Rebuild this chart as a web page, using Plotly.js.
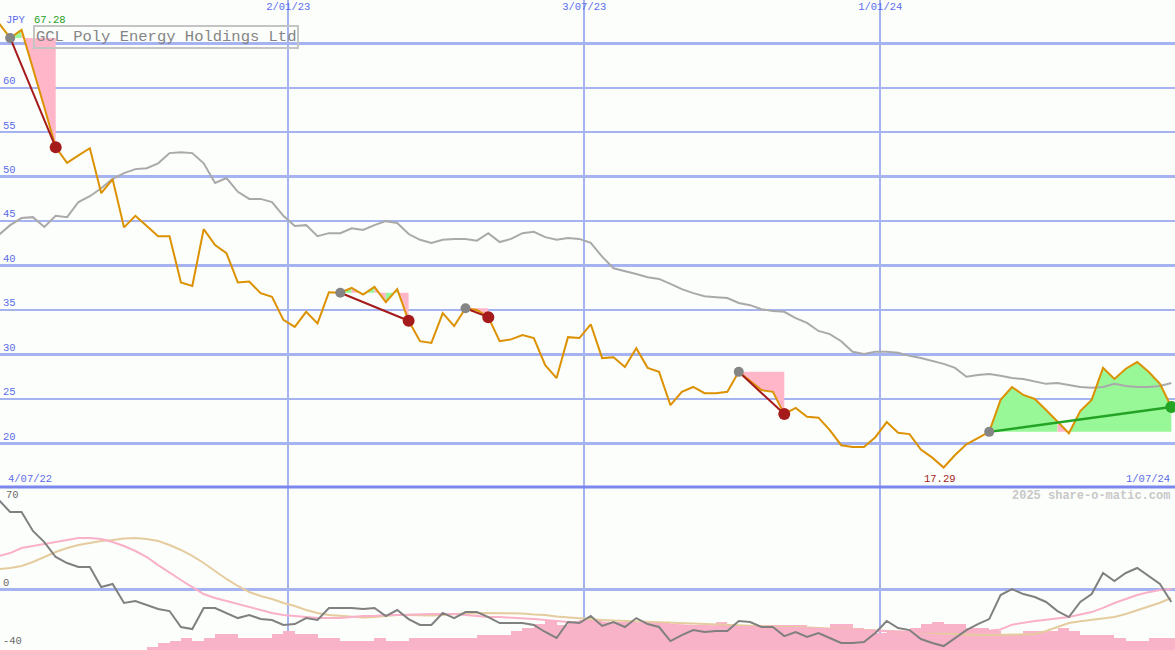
<!DOCTYPE html>
<html><head><meta charset="utf-8">
<script src="https://cdn.plot.ly/plotly-3.0.1.min.js"></script>
<style>html,body{margin:0;padding:0;background:#fcfefc;}#chart{width:1175px;height:650px;}</style>
</head><body><div id="chart"></div>
<script>
// ---------- data ----------
const dates = [
'2022-07-08','2022-07-15','2022-07-22','2022-07-29','2022-08-05','2022-08-12','2022-08-19','2022-08-26','2022-09-02','2022-09-09',
'2022-09-16','2022-09-23','2022-09-30','2022-10-07','2022-10-14','2022-10-21','2022-10-28','2022-11-04','2022-11-11','2022-11-18',
'2022-11-25','2022-12-02','2022-12-09','2022-12-16','2022-12-23','2022-12-30','2023-01-06','2023-01-13','2023-01-20','2023-01-27',
'2023-02-03','2023-02-10','2023-02-17','2023-02-24','2023-03-03','2023-03-10','2023-03-17','2023-03-24','2023-03-31','2023-04-07',
'2023-04-14','2023-04-21','2023-04-28','2023-05-05','2023-05-12','2023-05-19','2023-05-26','2023-06-02','2023-06-09','2023-06-16',
'2023-06-23','2023-06-30','2023-07-07','2023-07-14','2023-07-21','2023-07-28','2023-08-04','2023-08-11','2023-08-18','2023-08-25',
'2023-09-01','2023-09-08','2023-09-15','2023-09-22','2023-09-29','2023-10-06','2023-10-13','2023-10-20','2023-10-27','2023-11-03',
'2023-11-10','2023-11-17','2023-11-24','2023-12-01','2023-12-08','2023-12-15','2023-12-22','2023-12-29','2024-01-05','2024-01-12',
'2024-01-19','2024-01-26','2024-02-02','2024-02-09','2024-02-16','2024-02-23','2024-03-01','2024-03-08','2024-03-15','2024-03-22',
'2024-03-29','2024-04-05','2024-04-12','2024-04-19','2024-04-26','2024-05-03','2024-05-10','2024-05-17','2024-05-24','2024-05-31',
'2024-06-07','2024-06-14','2024-06-21','2024-06-28'];

const price = [
67.28,65.6,66.5,62.2,57.8,53.3,51.55,52.4,53.2,48.15,
49.7,44.3,45.6,44.45,43.3,43.3,38.1,37.7,44.1,42.3,
41.4,38.1,38.2,36.9,36.5,33.9,33.1,34.8,33.5,37.0,
36.95,37.5,36.75,37.6,35.9,37.35,33.8,31.5,31.3,34.65,
33.2,35.2,35.0,34.2,31.5,31.7,32.2,31.85,28.8,27.35,
31.95,31.85,33.4,29.6,29.7,28.6,30.7,28.5,28.05,24.3,
25.8,26.35,25.65,25.65,25.8,28.05,27.0,26.0,25.8,23.3,
24.0,23.0,22.9,21.5,19.8,19.6,19.6,20.7,22.4,21.2,
21.05,19.3,18.4,17.29,18.7,19.9,20.6,21.3,24.9,26.35,
25.45,25.0,23.75,22.4,21.15,23.65,24.9,28.5,27.25,28.4,
29.15,28.05,26.7,24.1];

const movingAvg = [
43.45,44.55,45.35,45.45,44.35,45.6,45.45,47.15,47.8,48.7,
49.75,50.4,50.85,50.95,51.5,52.65,52.75,52.65,51.5,49.3,
49.85,48.3,47.5,47.5,47.15,45.6,44.45,44.55,43.3,43.65,
43.65,44.2,44.0,44.55,45.0,44.8,43.55,42.9,42.55,42.9,
43.0,43.0,42.8,43.65,42.65,43.0,43.65,43.8,43.2,42.9,
43.1,43.0,42.55,41.0,39.7,39.4,39.05,38.7,38.5,37.95,
37.35,36.9,36.55,36.45,36.35,35.8,35.55,35.1,34.9,34.8,
34.1,33.55,32.65,32.3,31.5,30.3,30.05,30.3,30.3,30.2,
29.85,29.6,29.3,28.95,28.5,27.5,27.7,27.8,27.6,27.35,
27.25,27.0,26.7,26.8,26.55,26.35,26.25,26.35,26.7,26.45,
26.35,26.35,26.45,26.8];

const oscillator = [
61.1,52.9,52.9,40.0,32.4,22.2,18.1,15.4,15.4,1.7,
3.8,-9.2,-7.9,-10.6,-13.3,-14.7,-25.6,-27.0,-12.6,-12.6,
-16.0,-19.5,-17.4,-20.1,-20.8,-24.2,-23.6,-19.5,-20.8,-12.6,
-12.6,-12.6,-13.3,-12.6,-18.1,-14.0,-20.2,-24.2,-24.2,-16.0,
-19.5,-15.4,-15.4,-18.8,-22.9,-22.9,-22.9,-24.2,-29.0,-33.1,
-22.2,-22.9,-18.1,-24.9,-22.2,-25.6,-19.5,-23.6,-25.6,-35.2,
-31.1,-27.7,-29.0,-28.3,-28.3,-21.5,-22.2,-25.6,-25.6,-31.8,
-29.0,-32.4,-29.7,-33.1,-36.5,-36.5,-35.9,-29.7,-21.5,-26.3,
-27.7,-33.8,-36.5,-38.6,-33.1,-27.7,-23.6,-20.2,-3.8,0.3,
-3.1,-5.1,-8.5,-14.7,-18.8,-8.5,-3.1,11.3,5.8,11.3,
14.7,9.2,3.8,-8.5];

const oscFast = [
22.9,24.9,28.3,29.7,31.1,32.4,33.8,35.2,35.2,34.5,
32.4,29.7,26.3,22.2,16.7,11.3,6.5,1.7,-3.1,-5.8,
-7.9,-9.9,-12.0,-14.0,-16.0,-17.4,-18.1,-18.8,-19.5,-19.5,
-19.5,-18.8,-18.1,-18.1,-17.4,-17.4,-17.1,-16.7,-16.7,-16.7,
-16.7,-17.4,-18.1,-18.8,-18.8,-19.1,-19.5,-20.2,-20.8,-21.5,
-22.2,-22.2,-22.2,-22.5,-22.9,-22.9,-22.9,-23.2,-23.6,-24.2,
-24.6,-24.9,-24.9,-25.3,-25.6,-25.6,-25.6,-26.0,-26.3,-26.3,
-26.3,-26.6,-27.0,-27.0,-27.3,-27.7,-28.0,-28.3,-28.3,-28.7,
-29.0,-29.0,-29.0,-29.0,-29.0,-28.7,-28.5,-28.2,-27.3,-24.0,
-22.6,-21.5,-20.6,-19.7,-18.8,-17.0,-15.4,-12.5,-9.2,-6.5,
-3.8,-1.8,-0.3,0.3];

const oscSlow = [
14.0,14.7,16.1,18.8,22.2,25.6,28.3,30.4,31.8,33.1,
33.8,34.8,35.2,34.5,33.1,30.4,27.0,22.9,18.1,12.6,
7.2,2.4,-1.7,-4.4,-6.5,-9.2,-11.3,-14.0,-16.0,-17.4,
-18.1,-18.8,-19.1,-18.8,-18.1,-17.4,-17.4,-17.8,-17.8,-17.4,
-16.7,-16.4,-16.0,-16.0,-16.0,-16.0,-16.4,-17.1,-17.4,-18.4,
-19.1,-19.8,-20.5,-20.8,-21.2,-21.5,-21.5,-21.9,-22.2,-22.5,
-22.9,-23.2,-23.6,-23.9,-24.2,-24.6,-24.9,-25.3,-25.6,-25.6,
-25.6,-26.0,-26.3,-26.6,-27.0,-27.3,-27.7,-28.0,-28.3,-28.7,
-29.0,-29.4,-29.7,-30.1,-30.4,-30.7,-31.1,-31.1,-31.1,-30.9,
-30.7,-30.4,-28.3,-25.6,-22.9,-21.6,-20.6,-20.0,-18.8,-16.7,
-14.0,-11.8,-9.0,-5.8];

const volumeBars = [
0,0,0,0,0,0,0,0,0,0,
0,0,0,3.3,7,9,12.3,9,12.3,15.7,
15.7,12.3,12.3,12.3,15.7,19,15.7,15.7,12.3,12.3,
9,9,9,12.3,9,9,12.3,12.3,12.3,12.3,
12.3,12.3,15,15,15,19,22.3,25.7,30,25,
28.3,30,30,28.3,28.3,28.3,27,27,27,25,
25,23,23,28.3,25,25,25,25,25,25,
25,21.7,21.7,25.7,25.7,21.7,20.7,16.7,18.3,18.3,
22.3,25.7,28.3,25.7,25.7,22.3,22.3,19,15,15,
19,19,19,21.7,19,15,15,15,12.3,9,
9,12.3,12.3,12.3];

const tradeEntryDates = ['2022-07-15','2023-02-03','2023-04-21','2023-10-06','2024-03-08'];
const tradeExitDates  = ['2022-08-12','2023-03-17','2023-05-05','2023-11-03','2024-06-28'];
const tradeOpen       = [false,false,false,false,true];

const xTickVals = ['2023-01-02','2023-07-03','2024-01-01'];
const xTickText = ['2/01/23','3/07/23','1/01/24'];
const yTickVals = [20,25,30,35,40,45,50,55,60,65];
const yTickText = ['20','25','30','35','40','45','50','55','60',''];
const oscTickVals = [-40,0];
const oscTickText = ['-40','0'];
const chartTitle = 'GCL Poly Energy Holdings Ltd';
const currencyLabel = 'JPY';
const startLabel = '4/07/22';
const endLabel = '1/07/24';
const oscTopLabel = '70';
const watermark = '2025 share-o-matic.com';

// ---------- styling ----------
const W = 1175, H = 650;
const FONT = 'Liberation Mono, DejaVu Sans Mono, monospace';
const BG = '#fcfefc';
const GRID = '#a5b3f1';
const BLUE = '#5b6cea';
const ORANGE = '#dc9100';
const PINK = '#ffb6c9';
const GREEN = '#98f898';
const LOSS = '#a51b1b';
const WIN = '#24a424';
const lowerFrac = 163 / H;
const px = v => v / W;
const py = v => 1 - v / H;
const idxOf = d => dates.indexOf(d);

// Fill between price and entry level, each weekly segment coloured by
// whether the price at the segment end is above (green) or below (pink) entry.
function segmentFills(i0, i1) {
  const E = price[i0];
  const runs = [];
  let cur = null;
  for (let k = i0 + 1; k <= i1; k++) {
    const col = price[k] < E ? PINK : GREEN;
    if (!cur || cur.col !== col) { cur = { col, from: k - 1, to: k }; runs.push(cur); }
    else cur.to = k;
  }
  return runs.map(r => {
    const xs = [dates[r.from]], ys = [E];
    for (let k = r.from; k <= r.to; k++) { xs.push(dates[k]); ys.push(price[k]); }
    xs.push(dates[r.to]); ys.push(E);
    return { col: r.col, xs, ys };
  });
}

const traces = [];
tradeEntryDates.forEach((d, n) => {
  segmentFills(idxOf(d), idxOf(tradeExitDates[n])).forEach(p => {
    traces.push({ type: 'scatter', mode: 'lines', x: p.xs, y: p.ys, fill: 'toself',
      fillcolor: p.col, line: { width: 0, color: p.col }, xaxis: 'x', yaxis: 'y', hoverinfo: 'skip' });
  });
});
traces.push({ type: 'scatter', mode: 'lines', x: dates, y: movingAvg, line: { color: '#a9a9a9', width: 2 }, xaxis: 'x', yaxis: 'y' });
traces.push({ type: 'scatter', mode: 'lines', x: dates, y: price, line: { color: ORANGE, width: 2 }, xaxis: 'x', yaxis: 'y' });
tradeEntryDates.forEach((d, n) => {
  const i0 = idxOf(d), i1 = idxOf(tradeExitDates[n]);
  const col = tradeOpen[n] ? WIN : LOSS;
  traces.push({ type: 'scatter', mode: 'lines', x: [dates[i0], dates[i1]], y: [price[i0], price[i1]],
    line: { color: col, width: tradeOpen[n] ? 2.5 : 2 }, xaxis: 'x', yaxis: 'y' });
  traces.push({ type: 'scatter', mode: 'markers', x: [dates[i0]], y: [price[i0]],
    marker: { color: '#858585', size: 10 }, xaxis: 'x', yaxis: 'y', cliponaxis: false });
  traces.push({ type: 'scatter', mode: 'markers', x: [dates[i1]], y: [price[i1]],
    marker: { color: col, size: 12 }, xaxis: 'x', yaxis: 'y' });
});
traces.push({ type: 'bar', x: dates, y: volumeBars, offset: 0, width: 7 * 86400000,
  marker: { color: '#f9b3c8', line: { width: 0 } }, xaxis: 'x2', yaxis: 'y2' });
traces.push({ type: 'scatter', mode: 'lines', x: dates, y: oscSlow, line: { color: '#e5cc9e', width: 2 }, xaxis: 'x2', yaxis: 'y3' });
traces.push({ type: 'scatter', mode: 'lines', x: dates, y: oscFast, line: { color: '#f9b0c8', width: 2 }, xaxis: 'x2', yaxis: 'y3' });
traces.push({ type: 'scatter', mode: 'lines', x: dates, y: oscillator, line: { color: '#808080', width: 2 }, xaxis: 'x2', yaxis: 'y3' });

const maxVal = Math.max(...price), minVal = Math.min(...price);
const minIdx = price.indexOf(minVal);
const xRange = ['2022-07-08 18:00', '2024-06-30 06:00'];

const layout = {
  width: W, height: H,
  margin: { l: 0, r: 0, t: 0, b: 0, pad: 0 },
  paper_bgcolor: BG, plot_bgcolor: BG,
  showlegend: false, hovermode: false, bargap: 0,
  font: { family: FONT, size: 10, color: BLUE },
  xaxis: {
    type: 'date', range: xRange, domain: [0, 1], anchor: 'y', side: 'top',
    tickvals: xTickVals, ticktext: xTickText, ticks: '', ticklabelposition: 'inside',
    tickfont: { family: FONT, size: 10.5, color: BLUE },
    showgrid: true, gridcolor: GRID, gridwidth: 2, zeroline: false, showline: false
  },
  yaxis: {
    domain: [lowerFrac, 1], range: [15.1, 69.87], anchor: 'x',
    tickvals: yTickVals, ticktext: yTickText, ticks: '', ticklabelposition: 'inside top',
    tickfont: { family: FONT, size: 10.5, color: BLUE },
    showgrid: true, gridcolor: GRID, gridwidth: 2.5, zeroline: false, showline: false
  },
  xaxis2: {
    type: 'date', range: xRange, matches: 'x', anchor: 'y2',
    tickvals: xTickVals, showticklabels: false, ticks: '',
    showgrid: true, gridcolor: GRID, gridwidth: 2, zeroline: false, showline: false
  },
  yaxis2: {
    domain: [0, lowerFrac], range: [0, 163], anchor: 'x2',
    showticklabels: false, showgrid: false, zeroline: false, ticks: ''
  },
  yaxis3: {
    overlaying: 'y2', anchor: 'x2', range: [-41.3, 70], side: 'left',
    tickvals: oscTickVals, ticktext: oscTickText, ticks: '', ticklabelposition: 'inside top',
    tickfont: { family: FONT, size: 10.5, color: '#6a6a6a' },
    showgrid: false, zeroline: true, zerolinecolor: GRID, zerolinewidth: 2.5, showline: false
  },
  shapes: [
    { type: 'line', xref: 'paper', yref: 'paper', x0: 0, x1: 1, y0: lowerFrac, y1: lowerFrac,
      line: { color: '#7b87ec', width: 3 } }
  ],
  annotations: [
    { xref: 'paper', yref: 'paper', x: px(33), y: py(25), xanchor: 'left', yanchor: 'top',
      text: chartTitle, showarrow: false, font: { family: FONT, size: 15.5, color: '#858585' },
      bordercolor: '#c4c4c4', borderwidth: 2, borderpad: 1, bgcolor: 'rgba(0,0,0,0)' },
    { xref: 'paper', yref: 'paper', x: px(4), y: py(20), xanchor: 'left', yanchor: 'middle',
      text: currencyLabel, showarrow: false, font: { family: FONT, size: 10.5, color: BLUE } },
    { xref: 'paper', yref: 'paper', x: px(32), y: py(20), xanchor: 'left', yanchor: 'middle',
      text: maxVal.toFixed(2), showarrow: false, font: { family: FONT, size: 10.5, color: '#22a022' } },
    { xref: 'paper', yref: 'paper', x: px(6), y: py(479), xanchor: 'left', yanchor: 'middle',
      text: startLabel, showarrow: false, font: { family: FONT, size: 10.5, color: BLUE } },
    { xref: 'paper', yref: 'paper', x: px(1172), y: py(479), xanchor: 'right', yanchor: 'middle',
      text: endLabel, showarrow: false, font: { family: FONT, size: 10.5, color: BLUE } },
    { xref: 'x', yref: 'paper', x: dates[minIdx], y: py(479), xanchor: 'center', yanchor: 'middle', xshift: -4,
      text: minVal.toFixed(2), showarrow: false, font: { family: FONT, size: 10.5, color: '#a51b1b' } },
    { xref: 'paper', yref: 'paper', x: px(1172), y: py(496), xanchor: 'right', yanchor: 'middle',
      text: '<b>' + watermark + '</b>', showarrow: false, font: { family: FONT, size: 12, color: '#c8c8c8' } },
    { xref: 'paper', yref: 'paper', x: px(4), y: py(495), xanchor: 'left', yanchor: 'middle',
      text: oscTopLabel, showarrow: false, font: { family: FONT, size: 10.5, color: '#6a6a6a' } }
  ]
};

Plotly.newPlot('chart', traces, layout, { displayModeBar: false, staticPlot: true });
</script>
</body></html>
